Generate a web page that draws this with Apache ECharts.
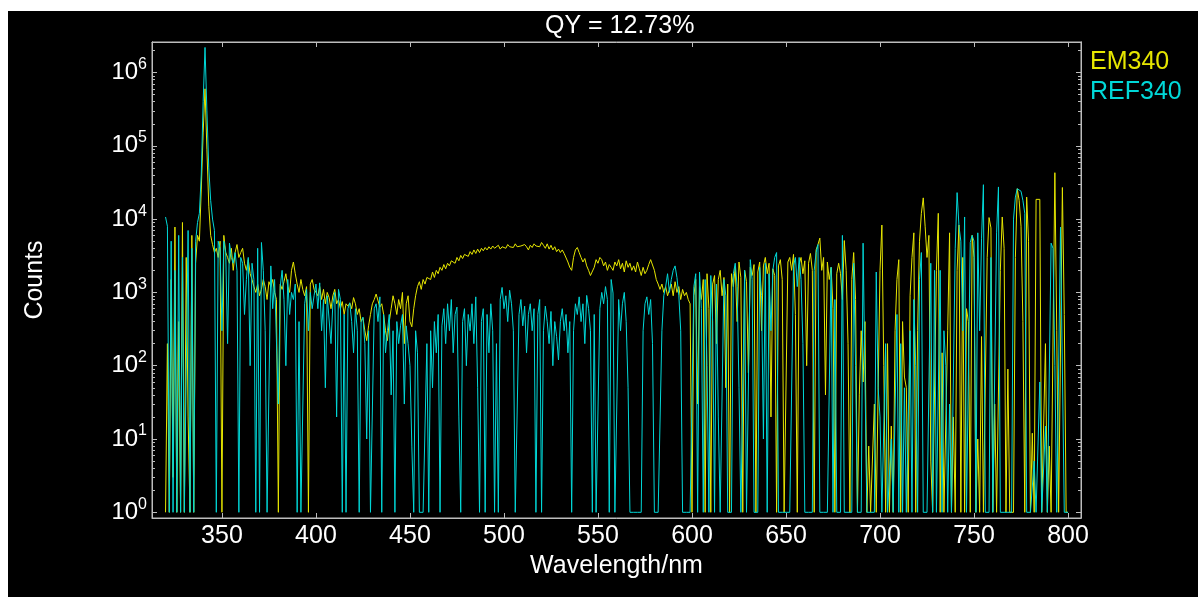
<!DOCTYPE html>
<html><head><meta charset="utf-8">
<script src="https://cdn.jsdelivr.net/npm/echarts@6/dist/echarts.min.js"></script>
<style>
html,body{margin:0;padding:0;background:#fff;width:1198px;height:597px;overflow:hidden}
#c{position:absolute;left:8px;top:11px;width:1190px;height:586px;background:#000}
</style></head><body><div id="c"></div>
<script>
const titleText = 'QY = 12.73%';
const seriesNames = ['EM340', 'REF340'];
const startWavelength = 320; // nm, 1 nm step
const em340 = [
1,200,1,1500,3,7800,1,400,1,9000,
1,3000,20,1,6000,1,2500,6000,5000,25000,
150000,600000,90000,15000,6000,4500,3500,4000,3000,5000,
1,6000,3500,3000,2500,4000,2000,3500,4500,3000,
3500,4000,2500,2000,2800,1800,1500,1200,1000,1300,
900,1100,1500,1200,800,1400,1200,1500,1000,800,
1,1300,1100,1400,1800,1200,1000,2000,2600,1800,
1300,1000,1500,1100,900,1200,1,1300,1500,1100,
1000,900,1200,800,1100,700,1000,850,600,900,
1100,700,800,600,750,500,700,650,720,600,
850,700,500,600,400,450,300,220,350,500,
700,800,950,1000,630,700,500,300,220,400,
600,900,700,500,800,600,1000,200,700,900,
400,340,600,900,1200,1400,1100,1500,1300,1600,
1700,1500,1900,1600,2000,1800,2200,2000,2400,2100,
2500,2300,2700,2800,2500,3000,2700,3200,2900,3300,
3400,3100,3600,3300,3800,3400,3900,3500,4000,3700,
4100,3800,4200,3900,4300,4000,4100,4400,3900,4200,
4300,4000,4500,4200,4300,4100,4600,4200,4400,4300,
4100,4500,4200,3800,4400,4100,4600,4300,4500,4200,
4800,4400,4000,4600,3900,4400,3800,4200,3600,3900,
3500,3800,3400,3600,2600,2200,2000,3000,3800,4100,
3500,3000,2600,2900,2300,2000,1700,1600,2200,2800,
2500,3000,2800,2300,2600,2000,2400,2200,2000,2600,
2300,2800,2100,2500,1900,2700,2200,2500,2000,2300,
1900,2600,2100,1700,2200,1800,2000,2400,2800,2900,
2000,1500,1300,1100,1300,1000,1200,900,1100,1300,
900,1400,1000,1200,800,1100,900,1000,800,700,
1,900,1500,30,1200,800,1500,1,1800,600,
1,1300,1700,200,1500,2000,900,1600,50,1300,
1,1800,1200,2200,400,2600,1600,1,2000,1400,
80,2200,1700,2400,1,1900,2600,300,2300,3000,
1800,2500,20,2100,1700,1,2300,2800,1500,1,
1,2600,3000,2000,3300,500,1,2400,3000,1800,
2700,100,2500,3400,2000,1,3800,4500,5500,2000,
3000,40,2600,1500,2200,600,1,1800,2500,1800,
800,5100,2000,200,1,1500,3500,800,1,40,
300,60,400,1,8,1,1,30,1,1,
2000,8300,100,1,200,1,15,1,300,1500,
2800,1,400,70,50,1,900,3000,6500,1,
300,5000,12000,19500,8000,3000,6000,5,1,1,
2000,12000,1,150,1,1,300,6500,1,20,
1,2000,8300,1,3000,1,600,400,1,6000,
3000,1,10,1,250,1,1,3000,10500,7600,
1,30,1,1,2000,10700,4000,1,90,1,
1,1,3000,26000,18000,8000,400,1,20000,5000,
1,12,1,18600,18600,18600,1,1,200,1,
8,1,1,43000,300,1,1,27000,500,1,
1
];
const ref340 = [
10700,8000,1,5000,1,2000,1,6000,1,3000,
1,1,7000,1,4000,1,5000,9000,12000,40000,
400000,2200000,300000,50000,18000,10000,7000,1,5000,4000,
300,5000,3500,200,4700,3000,2500,3500,2000,1,
3000,2500,500,1500,3000,100,2500,1500,1,4000,
1,4800,2000,300,1,1,2300,600,1500,1500,
30,1200,2000,800,100,1500,500,1000,800,1300,
1,400,1,1,700,1100,300,1000,600,900,
1300,600,1350,300,800,50,900,870,200,700,
1000,20,1100,800,1,500,1,600,720,400,
150,600,300,1,400,460,200,10,300,1,
1,600,700,400,870,1,500,150,300,500,
40,300,1,400,200,350,500,30,350,200,
100,8,1,300,150,1,1,1,1,200,
1,300,50,400,150,500,1,350,600,200,
700,300,800,150,500,630,20,1,400,600,
100,500,300,700,200,870,50,1,400,600,
1,500,150,700,300,1,200,1,800,1170,
600,900,400,1070,700,300,1,1,500,800,
350,650,150,500,700,300,600,1,500,800,
1,300,650,400,200,550,100,400,250,120,
400,600,300,500,150,400,1,300,700,500,
870,400,700,200,910,600,300,1,500,1,
1,600,1000,700,1200,800,1,1500,980,1,
1,800,300,700,1000,400,50,1,1,1,
1,1,1,1,300,700,870,500,800,200,
1,1,1,1,300,900,1200,1800,1000,1500,
2000,2300,1600,900,300,1,1,1,1,1,
1,1200,1800,1,1900,600,1,1500,100,1,
1700,400,1,1300,20,1,1,1500,900,1,
1,1,1800,2500,1200,50,1,1,2000,1,
1,2800,1500,1,1,1,2200,900,10,2500,
1,1800,300,2000,3000,3500,1,1,1,1,
1,1,1,1,2300,3000,1200,3000,1500,200,
1,1,1,1,1,2000,3500,4500,1,1,
1,1,1,1,2200,1,800,1,1,1,
6000,1,1,1,1,1,2500,100,1,1,
1,4700,4700,1,1,1,1,1,1900,50,
20,1,1,200,1,1,10,1,1,500,
1,200,1,50,1,1,300,1,800,100,
1,1500,3500,1,1,1,1,2500,1,2000,
1,1,2000,1,300,100,1,30,1,1,
4000,23000,8000,5000,300,10700,1,1,4800,6000,
5000,1,6500,300,5500,29500,1,1,1,3000,
1,1,6500,27500,1,1,1,1,1,1,
1,10000,20000,26000,26000,24000,18000,12000,1,1,
1,1,5,1,1,60,1,1,15,1,
1,4700,4000,100,1,1,7800,7800,1,1,
1
];
const xTickValues = [350, 400, 450, 500, 550, 600, 650, 700, 750, 800];
const yMajorValues = [1, 10, 100, 1000, 10000, 100000, 1000000];
const minorMultipliers = [2, 3, 4, 5, 6, 7, 8, 9];

const wavelengths = em340.map((_, i) => startWavelength + i);
const yMinorValues = [];
yMajorValues.forEach(m => minorMultipliers.forEach(k => yMinorValues.push(m * k)));

const FONT = 'Liberation Sans, Arial, sans-serif';
const axisColor = '#bdbdbd';
const yellow = '#e6e600';
const cyan = '#00d8d8';

const baseY = {
  type: 'log', logBase: 10, min: 0.836, max: 2.61e6,
  splitLine: { show: false },
  axisLine: { show: true, lineStyle: { color: axisColor, width: 1 } }
};
const baseX = {
  type: 'value', min: 312.8, max: 806.9,
  splitLine: { show: false },
  axisLine: { show: true, lineStyle: { color: axisColor, width: 1 } }
};

const chart = echarts.init(document.getElementById('c'), null, { renderer: 'canvas' });
chart.setOption({
  backgroundColor: '#000',
  animation: false,
  title: {
    text: titleText, left: 537, top: 3, padding: 0,
    textStyle: { color: '#fff', fontSize: 25, fontWeight: 'normal', fontFamily: FONT }
  },
  legend: {
    orient: 'vertical', left: 1077, top: 39, padding: 0, itemGap: 5,
    icon: 'none', itemWidth: 0, itemHeight: 0,
    textStyle: { fontSize: 25, fontFamily: FONT, lineHeight: 25 },
    data: [
      { name: seriesNames[0], textStyle: { color: yellow } },
      { name: seriesNames[1], textStyle: { color: cyan } }
    ]
  },
  grid: {
    left: 144, top: 31, right: 117, bottom: 79,
    show: true, borderColor: axisColor, borderWidth: 1, backgroundColor: 'transparent'
  },
  xAxis: [
    Object.assign({}, baseX, {
      position: 'bottom',
      axisTick: { show: true, inside: true, length: 5, customValues: xTickValues, lineStyle: { color: axisColor } },
      axisLabel: { customValues: xTickValues, color: '#fff', fontSize: 25, fontFamily: FONT, margin: 6 },
      name: 'Wavelength/nm', nameLocation: 'middle', nameGap: 36,
      nameTextStyle: { color: '#fff', fontSize: 25, fontFamily: FONT }
    }),
    Object.assign({}, baseX, {
      position: 'top',
      axisTick: { show: true, inside: true, length: 5, customValues: xTickValues, lineStyle: { color: axisColor } },
      axisLabel: { show: false }
    })
  ],
  yAxis: [
    Object.assign({}, baseY, {
      position: 'left',
      axisTick: { show: true, inside: true, length: 5, customValues: yMajorValues, lineStyle: { color: axisColor } },
      axisLabel: {
        customValues: yMajorValues, margin: 5, color: '#fff',
        formatter: v => '{b|10}{e|' + Math.round(Math.log10(v)) + '}',
        rich: {
          b: { fontSize: 24, color: '#fff', fontFamily: FONT, lineHeight: 24 },
          e: { fontSize: 16, color: '#fff', fontFamily: FONT, lineHeight: 16, padding: [0, 0, 16, 0] }
        }
      },
      name: 'Counts', nameLocation: 'middle', nameGap: 104, nameRotate: 90,
      nameTextStyle: { color: '#fff', fontSize: 25, fontFamily: FONT }
    }),
    Object.assign({}, baseY, {
      position: 'left',
      axisTick: { show: true, inside: true, length: 3, customValues: yMinorValues, lineStyle: { color: axisColor } },
      axisLabel: { show: false }
    }),
    Object.assign({}, baseY, {
      position: 'right',
      axisTick: { show: true, inside: true, length: 5, customValues: yMajorValues, lineStyle: { color: axisColor } },
      axisLabel: { show: false }
    }),
    Object.assign({}, baseY, {
      position: 'right',
      axisTick: { show: true, inside: true, length: 3, customValues: yMinorValues, lineStyle: { color: axisColor } },
      axisLabel: { show: false }
    })
  ],
  series: [
    {
      name: seriesNames[0], type: 'line', xAxisIndex: 0, yAxisIndex: 0,
      showSymbol: false, symbol: 'none', color: yellow,
      lineStyle: { width: 1, color: yellow },
      data: wavelengths.map((w, i) => [w, em340[i]])
    },
    {
      name: seriesNames[1], type: 'line', xAxisIndex: 0, yAxisIndex: 0,
      showSymbol: false, symbol: 'none', color: cyan,
      lineStyle: { width: 1, color: cyan },
      data: wavelengths.map((w, i) => [w, ref340[i]])
    }
  ]
});
</script></body></html>
